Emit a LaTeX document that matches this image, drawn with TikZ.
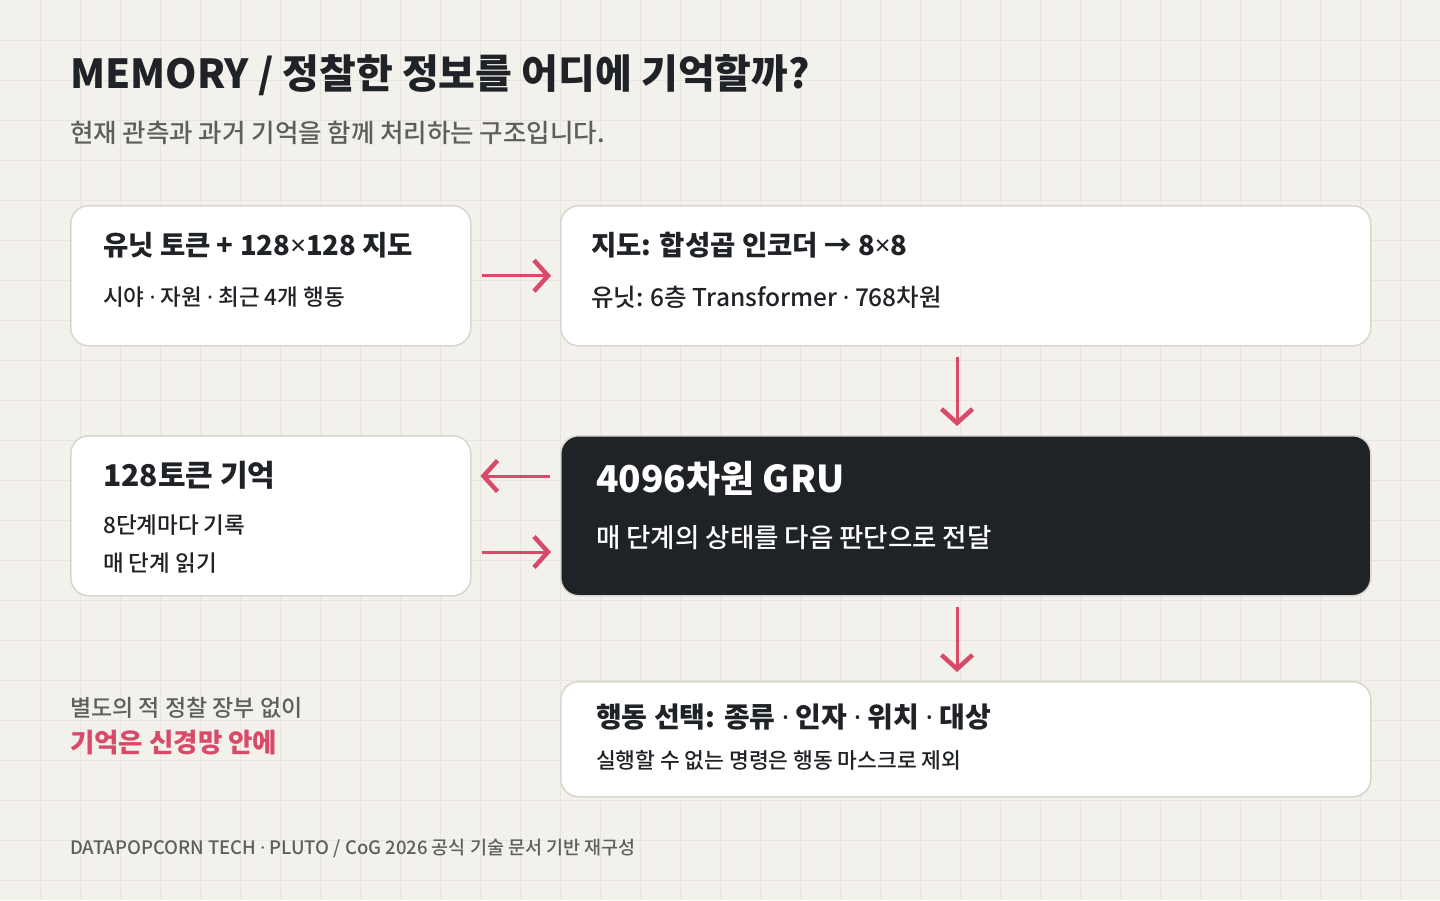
\documentclass[tikz,border=0pt]{standalone}
\usepackage{fontspec}
\setmainfont{Noto Sans CJK KR}
\newfontfamily\medfont{Noto Sans CJK KR Medium}
\newfontfamily\latinfont{Noto Sans}
\usetikzlibrary{arrows.meta}
\definecolor{paper}{HTML}{F3F1EC}
\definecolor{gridcol}{HTML}{E8E5DF}
\definecolor{edge}{HTML}{D9D6D0}
\definecolor{ink}{HTML}{1F2226}
\definecolor{muted}{HTML}{5E5E5E}
\definecolor{accent}{HTML}{D84A68}
\newcommand{\fs}[1]{\fontsize{#1}{#1}\selectfont}
\newcommand{\md}{{\latinfont ·}}
\newcommand{\tm}{{\latinfont ×}}
\tikzset{
  box/.style={draw=edge, line width=1.5pt, rounded corners=18pt, fill=white,
    anchor=north west, inner sep=0pt},
  txt/.style={anchor=west, inner sep=0pt, text=ink},
  flow/.style={draw=accent, line width=3pt, shorten <=10pt, shorten >=9pt,
    -{Straight Barb[length=14pt,width=31pt,line width=4.5pt]}}
}
\begin{document}
\begin{tikzpicture}[x=1pt,y=-1pt]
    \fill [paper] (0,0) rectangle (1440,900);
    \useasboundingbox (0,0) rectangle (1440,900);
    \foreach \x in {40,80,...,1400} \draw [gridcol, line width=0.8pt] (\x,0) -- (\x,900);
    \foreach \y in {40,80,...,880} \draw [gridcol, line width=0.8pt] (0,\y) -- (1440,\y);
    \node [txt] (title) at (70,75) {\fs{40}\bfseries MEMORY / 정찰한 정보를 어디에 기억할까?};
    \node [txt, text=muted] (sub) at (70,133) {\fs{25.5}\medfont 현재 관측과 과거 기억을 함께 처리하는 구조입니다.};
    \node [box, minimum width=400pt, minimum height=140pt] (1) at (70,205) {};
    \node [box, minimum width=810pt, minimum height=140pt] (2) at (560,205) {};
    \node [box, minimum width=400pt, minimum height=160pt] (3) at (70,435) {};
    \node [box, fill=ink, minimum width=810pt, minimum height=160pt] (4) at (560,435) {};
    \node [box, minimum width=810pt, minimum height=115pt] (5) at (560,681) {};
    \node [txt] (1a) at (103,245) {\fs{27.5}\bfseries 유닛 토큰 + 128\tm128 지도};
    \node [txt] (1b) at (103,297) {\fs{22.5}\medfont 시야 \md{} 자원 \md{} 최근 4개 행동};
    \node [txt] (2a) at (591,245) {\fs{27.5}\bfseries 지도: 합성곱 인코더 → 8\tm8};
    \node [txt] (2b) at (591,297) {\fs{24.5}\medfont 유닛: 6층 Transformer \md{} 768차원};
    \node [txt] (3a) at (103,475) {\fs{30}\bfseries 128토큰 기억};
    \node [txt] (3b) at (103,525) {\fs{22.5}\medfont 8단계마다 기록};
    \node [txt] (3c) at (103,563) {\fs{22.5}\medfont 매 단계 읽기};
    \node [txt, text=white] (4a) at (596,479) {\fs{37}\bfseries 4096차원 GRU};
    \node [txt, text=white] (4b) at (596,538) {\fs{26.5}\medfont 매 단계의 상태를 다음 판단으로 전달};
    \node [txt] (5a) at (596,717) {\fs{28}\bfseries 행동 선택: 종류 \md{} 인자 \md{} 위치 \md{} 대상};
    \node [txt] (5b) at (596,760) {\fs{21.5}\medfont 실행할 수 없는 명령은 행동 마스크로 제외};
    \node [txt, text=muted] (note) at (70,708) {\fs{23}\medfont 별도의 적 정찰 장부 없이};
    \node [txt, text=accent] (punch) at (70,743) {\fs{26.5}\bfseries 기억은 신경망 안에};
    \node [txt, text=muted] (foot) at (70,848) {\fs{18.5}\medfont DATAPOPCORN TECH \md{} PLUTO / CoG 2026 공식 기술 문서 기반 재구성};
    \draw [flow] (1.east) -- (2.west);
    \draw [flow] (2.south -| 957,0) -- (4.north -| 957,0);
    \draw [flow] (4.west |- 0,476) -- (3.east |- 0,476);
    \draw [flow] (3.east |- 0,552) -- (4.west |- 0,552);
    \draw [flow] (4.south -| 957,0) -- (5.north -| 957,0);
  \end{tikzpicture}
\end{document}
